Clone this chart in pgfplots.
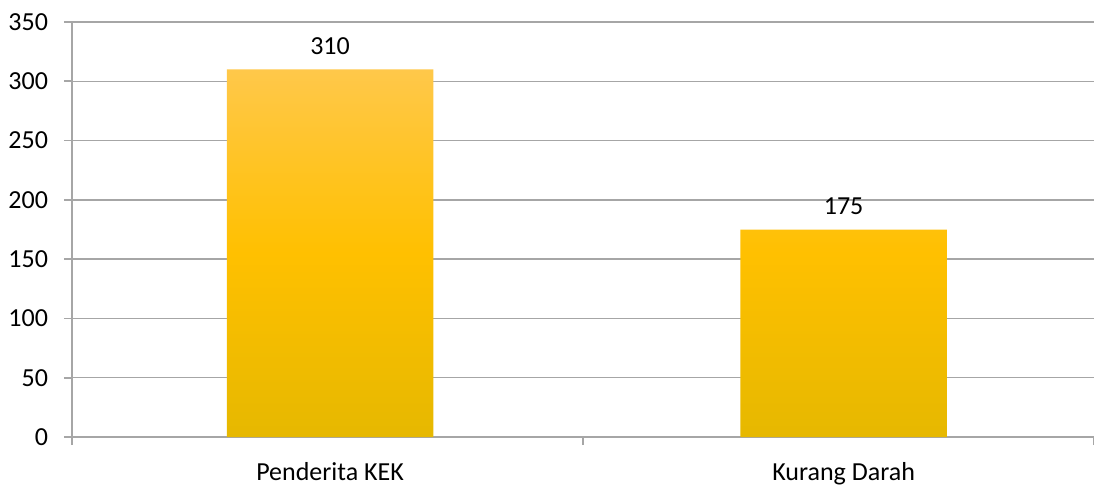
\documentclass[border=0pt]{standalone}
\usepackage{pgfplots}
\pgfplotsset{compat=1.18}
\usepackage{fontspec}
\setmainfont{Carlito}
\definecolor{gridgrey}{HTML}{A6A6A6}
\definecolor{bartop}{HTML}{FFC84A}
\definecolor{barmid}{HTML}{FFC000}
\definecolor{barbot}{HTML}{E6B800}
\begin{document}
\begin{tikzpicture}
\begin{axis}[
  scale only axis,
  width=511pt, height=207.5pt,
  xmin=0, xmax=2, ymin=0, ymax=350,
  axis x line*=bottom, axis y line*=left,
  axis line style={gridgrey, line width=0.8pt, -},
  ytick={0,50,...,350},
  ymajorgrids, grid style={gridgrey, line width=0.7pt},
  xtick={0.505,1.51},
  xticklabels={Penderita KEK, Kurang Darah},
  minor xtick={0,1,2},
  major x tick style={draw=none},
  minor tick style={gridgrey, line width=0.8pt},
  minor tick length=4pt,
  major tick length=4pt,
  tick align=outside,
  y tick style={gridgrey, line width=0.8pt},
  /pgf/number format/assume math mode=true,
  ticklabel style={font=\fontsize{13}{15}\selectfont, text=black},
  yticklabel style={xshift=-4.5pt},
  xticklabel style={yshift=-5pt},
  clip=false,
]
\addplot[ybar, bar width=0.404, draw=none,
  top color=bartop, bottom color=barbot, middle color=barmid,
  nodes near coords,
  every node near coord/.append style={font=\fontsize{13}{15}\selectfont, text=black, yshift=4pt},
] coordinates {(0.505,310) (1.51,175)};
\end{axis}
\pgfresetboundingbox
\path[use as bounding box] (current axis.south west) ++(-36pt,-23.5pt) rectangle ++(547pt,242pt);
\end{tikzpicture}
\end{document}
